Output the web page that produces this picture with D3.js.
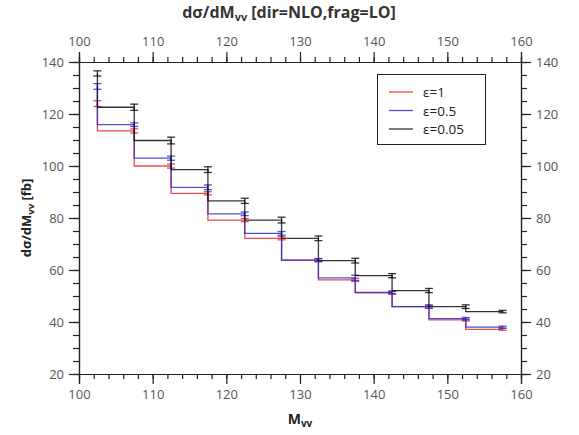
<!DOCTYPE html>
<html><head><meta charset="utf-8">
<script src="https://cdn.jsdelivr.net/npm/d3@7"></script>
<style>body{margin:0;background:#fff}svg{display:block}text{font-family:"Open Sans","DejaVu Sans",sans-serif}</style>
</head><body><svg id="c" width="579" height="435"></svg>
<script>
const xCenters = [102.5,107.5,112.5,117.5,122.5,127.5,132.5,137.5,142.5,147.5,152.5,157.5];
const seriesNames = ["ε=1","ε=0.5","ε=0.05"];
const seriesColors = ["#e02020","#2424d0","#000000"];
const valsRed   = [124.0,113.5,100.0,89.5,79.2,72.2,63.8,56.2,51.2,45.9,40.8,37.2];
const errRed    = [1.1,0.8,0.8,0.6,0.6,0.6,0.5,0.6,0.5,0.6,0.4,0.4];
const valsBlue  = [130.6,115.9,103.0,91.8,81.6,74.1,63.8,57.0,51.4,45.9,41.3,38.0];
const errBlue   = [1.1,0.7,0.8,0.9,0.7,0.7,0.6,1.0,0.5,0.6,0.45,0.4];
const valsBlack = [135.6,122.6,109.8,98.6,86.6,79.2,72.2,63.6,57.8,52.1,45.9,44.0];
const errBlack  = [1.0,1.2,1.3,1.1,1.0,1.1,0.9,0.9,0.8,0.8,0.7,0.45];
const xTicks = [100,110,120,130,140,150,160];
const yTicks = [20,40,60,80,100,120,140];

const svg = d3.select("#c");
const L=79,R=521,T=62,B=374;
const x = d3.scaleLinear().domain([100,160]).range([L,R]);
const y = d3.scaleLinear().domain([20,140]).range([B,T]);
const lab="#555", axc="#222";

function styleAxis(g, major){
  g.select(".domain").attr("stroke",axc).attr("stroke-width",1.2);
  g.selectAll(".tick line").attr("stroke",axc).attr("stroke-width",1.2);
  g.selectAll(".tick text").attr("fill",lab).style("font-size","13px");
}
// minor ticks
const xMinor = d3.range(100,160.01,2);
const yMinor = d3.range(20,140.01,5);
svg.append("g").attr("transform",`translate(0,${B})`).call(d3.axisBottom(x).tickValues(xMinor).tickSize(5).tickFormat("")).call(styleAxis);
svg.append("g").attr("transform",`translate(0,${T})`).call(d3.axisTop(x).tickValues(xMinor).tickSize(5).tickFormat("")).call(styleAxis);
svg.append("g").attr("transform",`translate(${L},0)`).call(d3.axisLeft(y).tickValues(yMinor).tickSize(6).tickFormat("")).call(styleAxis);
svg.append("g").attr("transform",`translate(${R},0)`).call(d3.axisRight(y).tickValues(yMinor).tickSize(6).tickFormat("")).call(styleAxis);
// major ticks
svg.append("g").attr("transform",`translate(0,${B})`).call(d3.axisBottom(x).tickValues(xTicks).tickSize(10).tickPadding(6).tickFormat(d3.format("d"))).call(styleAxis);
svg.append("g").attr("transform",`translate(0,${T})`).call(d3.axisTop(x).tickValues(xTicks).tickSize(10).tickPadding(6).tickFormat(d3.format("d"))).call(styleAxis);
svg.append("g").attr("transform",`translate(${L},0)`).call(d3.axisLeft(y).tickValues(yTicks).tickSize(10).tickPadding(5).tickFormat(d3.format("d"))).call(styleAxis);
svg.append("g").attr("transform",`translate(${R},0)`).call(d3.axisRight(y).tickValues(yTicks).tickSize(10).tickPadding(5).tickFormat(d3.format("d"))).call(styleAxis);

// data
const series = [
  {vals:valsRed, err:errRed, color:seriesColors[0]},
  {vals:valsBlue, err:errBlue, color:seriesColors[1]},
  {vals:valsBlack, err:errBlack, color:seriesColors[2]}
];
const line = d3.line().x(d=>x(d[0])).y(d=>y(d[1])).curve(d3.curveStepBefore);
const plot = svg.append("g");
series.forEach(s=>{
  const pts = xCenters.map((c,i)=>[c,s.vals[i]]);
  const g = plot.append("g").attr("stroke",s.color).attr("stroke-opacity",0.8).attr("fill","none").attr("stroke-width",1.3);
  g.append("path").attr("d",line(pts));
  xCenters.forEach((c,i)=>{
    const x0=x(c), y1=y(s.vals[i]+s.err[i]), y2=y(s.vals[i]-s.err[i]);
    g.append("line").attr("x1",x0).attr("x2",x0).attr("y1",y1).attr("y2",y2);
    g.append("line").attr("x1",x0-4).attr("x2",x0+4).attr("y1",y1).attr("y2",y1);
    g.append("line").attr("x1",x0-4).attr("x2",x0+4).attr("y1",y2).attr("y2",y2);
  });
});

// legend
const lg = svg.append("g");
lg.append("rect").attr("x",377.5).attr("y",74.5).attr("width",108).attr("height",70).attr("fill","#fff").attr("stroke","#222").attr("stroke-width",1);
seriesNames.forEach((n,i)=>{
  const yy = 92 + i*18.5;
  lg.append("line").attr("x1",389).attr("x2",413).attr("y1",yy).attr("y2",yy).attr("stroke",seriesColors[i]).attr("stroke-opacity",0.8).attr("stroke-width",1.3);
  lg.append("text").attr("x",423).attr("y",yy+5).text(n).attr("fill","#222").style("font-size","13.5px");
});

// titles
const t = svg.append("text").attr("x",289).attr("y",18).attr("text-anchor","middle").attr("fill","#333").style("font-size","16px").style("font-weight","bold");
t.append("tspan").text("dσ/dM");
t.append("tspan").text("vv").style("font-size","11px").attr("dy",3);
t.append("tspan").text(" [dir=NLO,frag=LO]").attr("dy",-3);
const xt = svg.append("text").attr("x",300).attr("y",424).attr("text-anchor","middle").attr("fill","#222").style("font-size","14px").style("font-weight","bold");
xt.append("tspan").text("M");
xt.append("tspan").text("vv").style("font-size","10px").attr("dy",3);
const yt = svg.append("text").attr("transform","translate(31,218) rotate(-90)").attr("text-anchor","middle").attr("fill","#222").style("font-size","13px").style("font-weight","bold");
yt.append("tspan").text("dσ/dM");
yt.append("tspan").text("vv").style("font-size","9.5px").attr("dy",3);
yt.append("tspan").text(" [fb]").attr("dy",-3);
</script></body></html>
